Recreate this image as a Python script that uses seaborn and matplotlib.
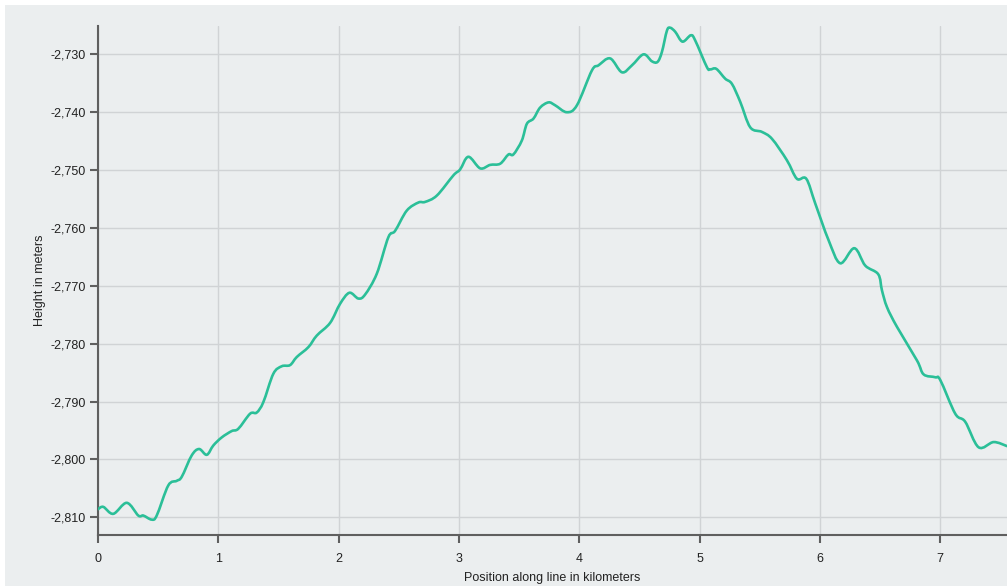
import matplotlib
matplotlib.use("Agg")
import matplotlib.pyplot as plt
from matplotlib.patches import Rectangle, PathPatch
from matplotlib.path import Path
from matplotlib.ticker import FuncFormatter, FixedLocator
import numpy as np
import pandas as pd
import seaborn as sns

# Elevation profile along the survey line
distance_km = [
    0.000, 0.044, 0.127, 0.239, 0.335, 0.377, 0.446, 0.488, 0.584, 0.654,
    0.696, 0.779, 0.840, 0.904, 0.958, 1.028, 1.111, 1.166, 1.264, 1.319,
    1.374, 1.457, 1.527, 1.596, 1.652, 1.748, 1.818, 1.929, 2.012, 2.089,
    2.164, 2.220, 2.317, 2.413, 2.469, 2.566, 2.663, 2.718, 2.816, 2.954,
    3.009, 3.078, 3.176, 3.259, 3.342, 3.411, 3.452, 3.522, 3.564, 3.619,
    3.674, 3.744, 3.799, 3.896, 3.980, 4.104, 4.159, 4.256, 4.354, 4.437,
    4.533, 4.603, 4.650, 4.686, 4.728, 4.755, 4.797, 4.857, 4.927, 4.963,
    5.060, 5.088, 5.138, 5.212, 5.268, 5.337, 5.420, 5.517, 5.601, 5.725,
    5.808, 5.886, 5.961, 6.071, 6.168, 6.285, 6.376, 6.484, 6.515, 6.557,
    6.640, 6.806, 6.861, 6.958, 7.000, 7.124, 7.207, 7.318, 7.443, 7.554,
]
height_m = [
    -2808.6, -2808.2, -2809.4, -2807.5, -2809.7, -2809.7, -2810.4, -2809.7, -2804.5, -2803.7,
    -2803.0, -2799.3, -2798.2, -2799.2, -2797.6, -2796.2, -2795.1, -2794.7, -2792.1, -2791.9,
    -2790.1, -2785.2, -2783.9, -2783.7, -2782.3, -2780.6, -2778.6, -2776.4, -2773.1, -2771.2,
    -2772.2, -2771.5, -2767.9, -2761.6, -2760.5, -2757.0, -2755.6, -2755.5, -2754.4, -2750.9,
    -2749.9, -2747.7, -2749.7, -2749.1, -2748.9, -2747.3, -2747.3, -2744.9, -2742.0, -2741.1,
    -2739.2, -2738.3, -2738.8, -2740.0, -2738.8, -2732.8, -2731.9, -2730.7, -2733.1, -2731.9,
    -2730.0, -2731.2, -2731.3, -2729.6, -2725.9, -2725.4, -2726.1, -2727.8, -2726.7, -2727.6,
    -2732.2, -2732.6, -2732.5, -2734.2, -2735.1, -2738.2, -2742.6, -2743.4, -2744.6, -2748.3,
    -2751.5, -2751.5, -2755.8, -2762.1, -2766.1, -2763.5, -2766.5, -2768.0, -2770.8, -2773.7,
    -2777.1, -2782.9, -2785.3, -2785.8, -2786.3, -2792.1, -2793.5, -2797.9, -2797.0, -2797.7,
]
x_ticks = [0, 1, 2, 3, 4, 5, 6, 7]
y_ticks = [-2810, -2800, -2790, -2780, -2770, -2760, -2750, -2740, -2730]

BG = "#ebeeef"
GRID = "#d0d3d5"
AXIS = "#5f5f5f"
LINE = "#2bbf98"
TEXT = "#222222"


def curved_path(points):
    """Catmull-Rom spline through the points, expressed as cubic Bezier segments."""
    pts = np.asarray(points, dtype=float)
    verts = [pts[0]]
    codes = [Path.MOVETO]
    n = len(pts)
    for i in range(n - 1):
        p0 = pts[i - 1] if i > 0 else pts[i]
        p1, p2 = pts[i], pts[i + 1]
        p3 = pts[i + 2] if i + 2 < n else pts[i + 1]
        verts += [p1 + (p2 - p0) / 6.0, p2 - (p3 - p1) / 6.0, p2]
        codes += [Path.CURVE4] * 3
    return Path(verts, codes)


sns.set_theme(style="whitegrid", rc={
    "axes.facecolor": BG,
    "grid.color": GRID,
    "grid.linewidth": 1.0,
})
plt.rcParams["font.family"] = ["Liberation Sans", "DejaVu Sans"]

W, H = 1007, 586
fig = plt.figure(figsize=(W / 100, H / 100), dpi=100, facecolor="white")
fig.patches.append(Rectangle((5 / W, 0), 1, 1 - 5 / H, transform=fig.transFigure,
                             facecolor=BG, edgecolor="none", zorder=-10))

ax = fig.add_axes([98 / W, 51 / H, 909 / W, 509 / H])
ax.set_facecolor(BG)

df = pd.DataFrame({"distance": distance_km, "height": height_m})
sns.lineplot(data=df, x="distance", y="height", ax=ax, color=LINE, linewidth=1.9)

# Render the profile as a smooth curve through the same data points
profile = ax.lines[0]
profile.set_visible(False)
ax.add_patch(PathPatch(curved_path(profile.get_xydata()), transform=ax.transData,
                       facecolor="none", edgecolor=LINE, linewidth=1.9,
                       joinstyle="round", capstyle="round", zorder=3))

ax.set_xlim(0, 7.554)
ax.set_ylim(-2813.06, -2725.1)
ax.xaxis.set_major_locator(FixedLocator(x_ticks))
ax.yaxis.set_major_locator(FixedLocator(y_ticks))
ax.xaxis.set_major_formatter(FuncFormatter(lambda v, p: f"{v:.0f}"))
ax.yaxis.set_major_formatter(FuncFormatter(lambda v, p: f"{v:,.0f}"))
ax.set_axisbelow(True)
ax.grid(True, color=GRID, linewidth=1.0)

for side in ("top", "right"):
    ax.spines[side].set_visible(False)
for side in ("left", "bottom"):
    ax.spines[side].set_color(AXIS)
    ax.spines[side].set_linewidth(1.5)

ax.tick_params(axis="both", bottom=True, left=True, colors=AXIS, width=1.5, length=6,
               labelsize=9, labelcolor=TEXT)
ax.tick_params(axis="x", pad=7)
ax.tick_params(axis="y", pad=3)

ax.set_xlabel("Position along line in kilometers", fontsize=9, color=TEXT, labelpad=5)
ax.set_ylabel("Height in meters", fontsize=9, color=TEXT, labelpad=3)

fig.savefig("out.png", dpi=100, facecolor="white")
